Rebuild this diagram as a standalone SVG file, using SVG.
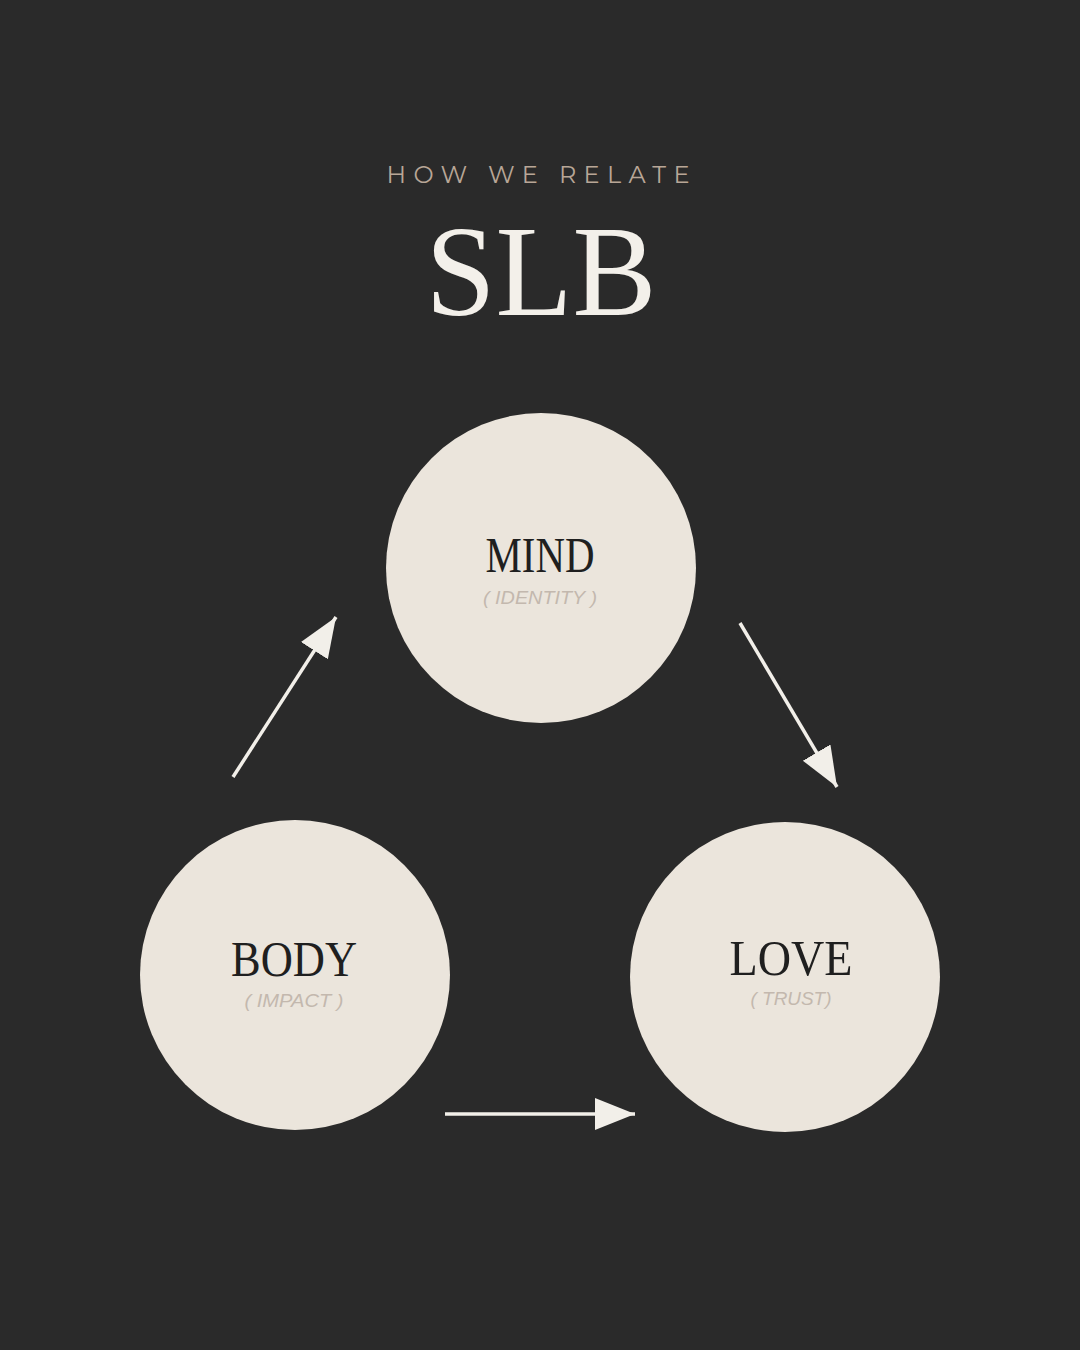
<svg xmlns="http://www.w3.org/2000/svg" width="1080" height="1350" viewBox="0 0 1080 1350">
  <style>
    .node circle { fill: #ebe5dc; }
    .title { font-family: "Liberation Serif", "DejaVu Serif", serif; fill: #1f1f1f; text-anchor: middle; }
    .sub { font-family: "Liberation Sans", "Noto Sans", sans-serif; font-style: italic; fill: #c3b8ae; text-anchor: middle; font-size: 18px; }
    .conn line { stroke: #f2efe9; stroke-width: 3.5; fill: none; }
  </style>
  <defs>
    <marker id="arrow" markerUnits="userSpaceOnUse" markerWidth="42" markerHeight="34" refX="40" refY="16" orient="auto">
      <path d="M0,0 L40,16 L0,32 Z" fill="#f2efe9"/>
    </marker>
  </defs>
  <rect width="1080" height="1350" fill="#2a2a2a"/>

  <g id="header">
    <text x="538" y="183" font-family="Montserrat, 'Liberation Sans', sans-serif" font-size="24" fill="#b8a697" text-anchor="middle" textLength="303" lengthAdjust="spacing">HOW WE RELATE</text>
    <text x="541" y="315" font-family="'Liberation Serif', 'DejaVu Serif', serif" font-size="130" fill="#f3f0ea" text-anchor="middle" textLength="231" lengthAdjust="spacingAndGlyphs">SLB</text>
  </g>

  <g id="node-mind" class="node">
    <circle cx="541" cy="568" r="155"/>
    <text class="title" x="540" y="572" font-size="50" textLength="109" lengthAdjust="spacingAndGlyphs">MIND</text>
    <text class="sub" x="540" y="604" textLength="114" lengthAdjust="spacingAndGlyphs">( IDENTITY )</text>
  </g>

  <g id="node-body" class="node">
    <circle cx="295" cy="975" r="155"/>
    <text class="title" x="294" y="976" font-size="50" textLength="126" lengthAdjust="spacingAndGlyphs">BODY</text>
    <text class="sub" x="294" y="1007" textLength="99" lengthAdjust="spacingAndGlyphs">( IMPACT )</text>
  </g>

  <g id="node-love" class="node">
    <circle cx="785" cy="977" r="155"/>
    <text class="title" x="791" y="975" font-size="50" textLength="123" lengthAdjust="spacingAndGlyphs">LOVE</text>
    <text class="sub" x="791" y="1005" textLength="81" lengthAdjust="spacingAndGlyphs">( TRUST)</text>
  </g>

  <g id="connectors" class="conn">
    <line x1="233" y1="777" x2="336" y2="617" marker-end="url(#arrow)"/>
    <line x1="740" y1="623" x2="837" y2="787" marker-end="url(#arrow)"/>
    <line x1="445" y1="1114" x2="635" y2="1114" marker-end="url(#arrow)"/>
  </g>
</svg>
